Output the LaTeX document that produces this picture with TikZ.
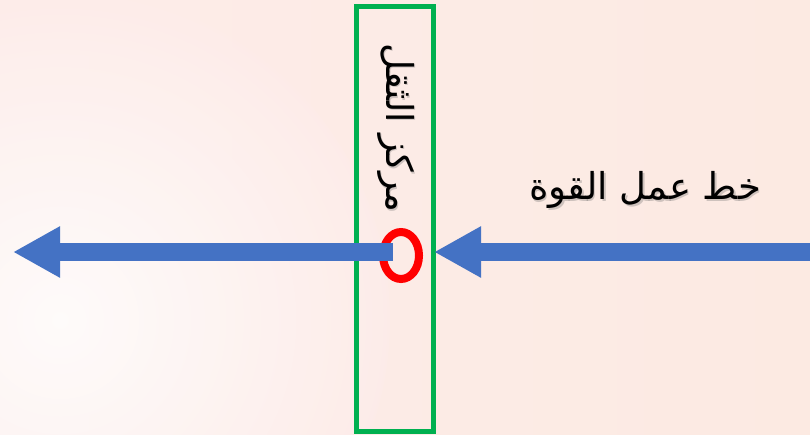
\documentclass[tikz,border=0pt]{standalone}
\usepackage{fontspec}
\newfontfamily\arabicfont[Script=Arabic]{DejaVu Sans}
\TeXXeTstate=1
\usetikzlibrary{arrows.meta}
\definecolor{bgpink}{RGB}{252,228,224}
\definecolor{bgpeach}{RGB}{252,234,226}
\definecolor{arrowblue}{RGB}{68,114,196}
\definecolor{framegreen}{RGB}{0,176,80}
\tikzset{
  force/.style={draw=arrowblue, line width=18pt, line cap=butt,
    -{Triangle[length=47pt,width=48pt]}},
  label ar/.style={font=\arabicfont\fontsize{37}{42}\selectfont, text=black, inner sep=0pt},
  shadow ar/.style={font=\arabicfont\fontsize{37}{42}\selectfont, text=black!60, opacity=0.3, inner sep=0pt},
}
\begin{document}
\begin{tikzpicture}[x=1pt,y=-1pt]
\useasboundingbox (0,0) rectangle (810,434);
% background
\shade[left color=bgpink!70, right color=bgpeach] (0,0) rectangle (810,434);
\begin{scope}
\clip (0,0) rectangle (810,434);
\shade[inner color=white, outer color=bgpink!70, opacity=0.8] (60,320) circle (330);
\end{scope}
% frame
\node[draw=framegreen, line width=5pt, minimum width=77pt, minimum height=425pt, inner sep=0pt] (body) at (395,219) {};
% coordinates
\coordinate (cg) at (401,255.5);
\coordinate (lend) at (13,252);
\coordinate (lstart) at (393,252);
\coordinate (rstart) at (810,252);
\coordinate (rend) at (434,252);
% red ring
\draw[red, line width=8pt] (cg) ellipse (18 and 23.5);
% arrows
\draw[force] (lstart) -- (lend);
\draw[force] (rstart) -- (rend);
% labels
\node[shadow ar, rotate=-90] at (397.5,129.5) {\beginR مركز الثقل\endR};
\node[label ar, rotate=-90] (cgl) at (396,128) {\beginR مركز الثقل\endR};
\node[shadow ar] at (646.5,191.5) {\beginR خط عمل القوة\endR};
\node[label ar] (line) at (645,190) {\beginR خط عمل القوة\endR};
\end{tikzpicture}
\end{document}
